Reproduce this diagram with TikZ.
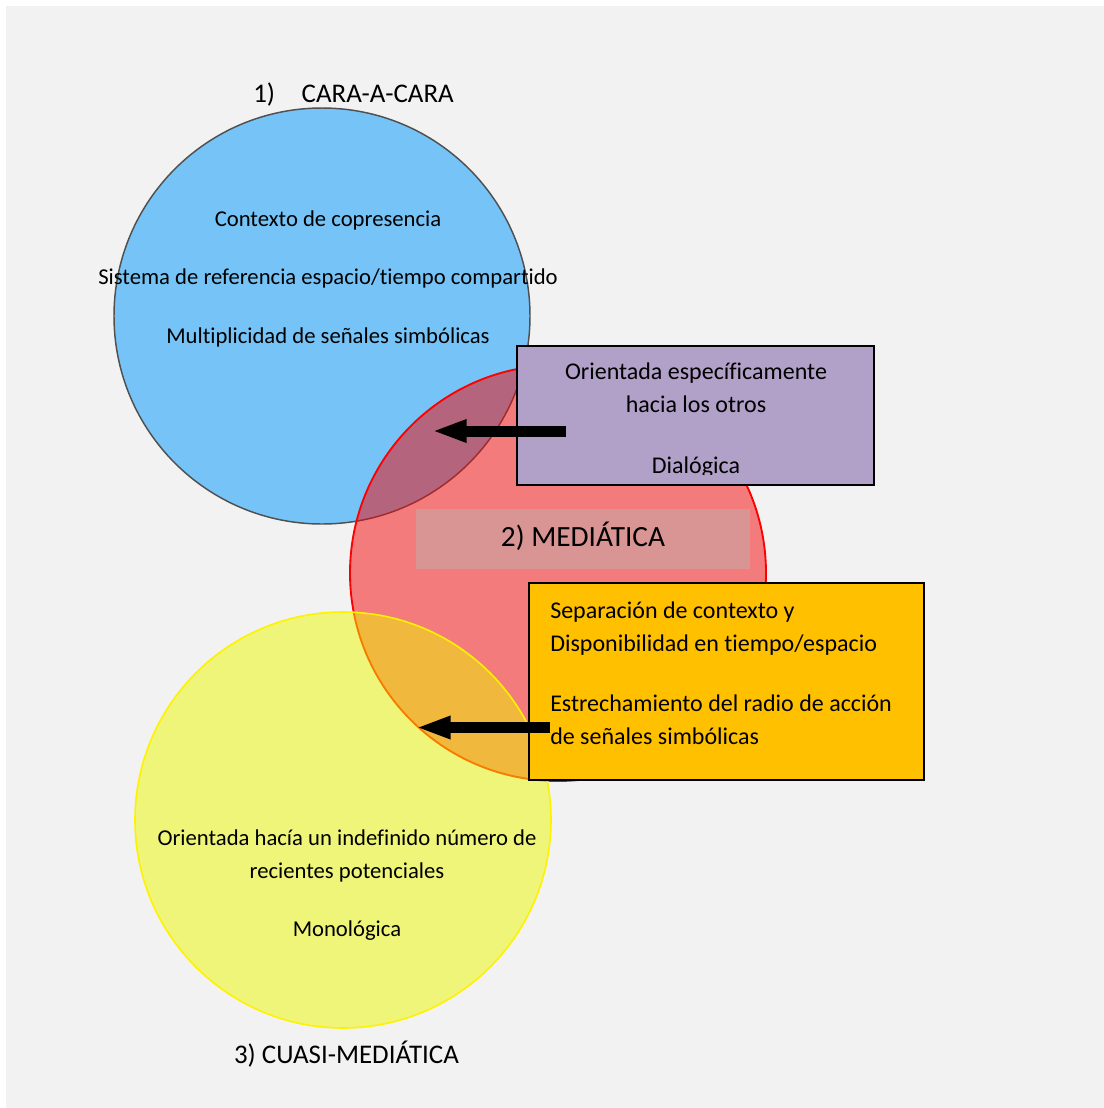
\documentclass[tikz,border=0pt]{standalone}
\usepackage{fontspec}
\setmainfont{Carlito}[Ligatures={NoCommon}]
\usetikzlibrary{arrows.meta}
\definecolor{pagegray}{RGB}{242,242,242}
\definecolor{skyfill}{RGB}{118,196,247}
\definecolor{skyline}{RGB}{80,80,80}
\definecolor{mediared}{RGB}{244,6,6}
\definecolor{quasiyellow}{RGB}{238,248,0}
\definecolor{lilac}{RGB}{177,160,199}
\definecolor{amber}{RGB}{255,192,0}
\definecolor{rosebar}{RGB}{217,149,148}
\tikzset{
  disc/.style={circle, inner sep=0pt, minimum size=312pt},
  infobox/.style={draw=black, line width=1.5pt, inner sep=0pt},
  body/.style={font=\fontsize{18}{21}\selectfont, inner sep=0pt, anchor=base},
  disctext/.style={font=\fontsize{17}{20}\selectfont, inner sep=0pt, anchor=base},
  heading/.style={font=\fontsize{20.2}{24}\selectfont, inner sep=0pt, anchor=base},
  fatarrow/.style={line width=8.25pt, -{Triangle[length=26pt,width=15.75pt]}},
}
\begin{document}
\begin{tikzpicture}[x=0.75pt, y=-0.75pt]
  % canvas
  \useasboundingbox (0,0) rectangle (1104,1108);
  \fill[white] (0,0) rectangle (1104,1108);
  \fill[pagegray] (6,6) rectangle (1104,1108);

  % the three circles
  \node[disc, fill=skyfill, draw=skyline, line width=1.1pt] (face) at (322,316) {};
  \node[disc, fill=mediared, fill opacity=0.5, draw=red, line width=1.4pt] (media) at (558,573) {};
  \node[disc, fill=quasiyellow, fill opacity=0.5, draw=yellow, line width=1.2pt] (quasi) at (343,820) {};

  % band with the middle heading
  \node[fill=rosebar, inner sep=0pt, minimum width=250.5pt, minimum height=45pt] (band) at (583,539) {};
  \node[font=\fontsize{22}{26}\selectfont, inner sep=0pt, anchor=base] (mtitle) at (583,546.5) {2) MEDIÁTICA};

  % headings of the outer circles
  \node[heading, anchor=base west] (ftitle) at (253,102) {1)\hspace{20pt}CARA-A-CARA};
  \node[heading] (qtitle) at (346.5,1063) {3) CUASI-MEDIÁTICA};

  % texts inside the upper circle
  \node[disctext] (f1) at (328,226) {Contexto de copresencia};
  \node[disctext] (f2) at (328,284.5) {Sistema de referencia espacio/tiempo compartido};
  \node[disctext] (f3) at (328,343) {Multiplicidad de señales simbólicas};

  % texts inside the lower circle
  \node[disctext] (q1) at (347,845) {Orientada hacía un indefinido número de};
  \node[disctext] (q2) at (347,878) {recientes potenciales};
  \node[disctext] (q3) at (347,936) {Monológica};

  % purple box
  \node[infobox, fill=lilac, minimum width=267.75pt, minimum height=104.25pt] (pbox) at (695.5,415.5) {};
  \begin{scope}
    \clip (517,346) rectangle (874,474);
    \node[body] (p1) at (696,379) {Orientada específicamente};
    \node[body] (p2) at (696,412) {hacia los otros};
    \node[body] (p3) at (696,473) {Dialógica};
  \end{scope}

  % orange box
  \node[infobox, fill=amber, minimum width=296.25pt, minimum height=147.75pt] (obox) at (726.5,681.5) {};
  \node[body, anchor=base west] (o1) at (550,618) {Separación de contexto y};
  \node[body, anchor=base west] (o2) at (550,651) {Disponibilidad en tiempo/espacio};
  \node[body, anchor=base west] (o3) at (550,711) {Estrechamiento del radio de acción};
  \node[body, anchor=base west] (o4) at (550,744) {de señales simbólicas};

  % arrows pointing into the overlaps
  \coordinate (a1from) at (566,431);
  \coordinate (a1to) at (432,431);
  \coordinate (a2from) at (550,727.5);
  \coordinate (a2to) at (416,727.5);
  \draw[fatarrow] (a1from) -- (a1to);
  \draw[fatarrow] (a2from) -- (a2to);
\end{tikzpicture}
\end{document}
